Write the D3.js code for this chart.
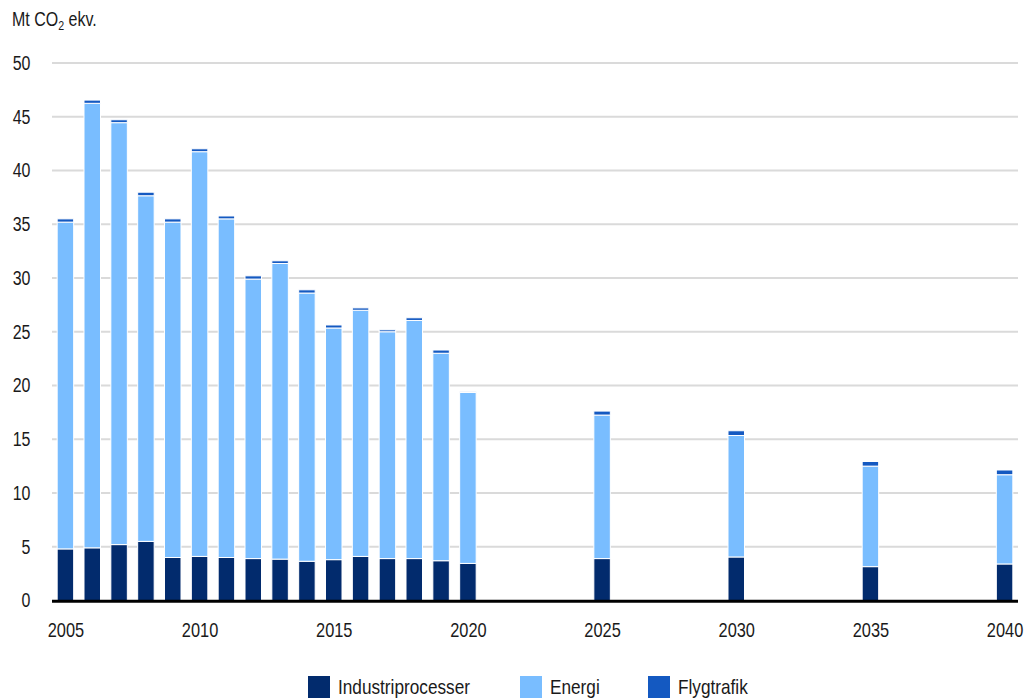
<!DOCTYPE html>
<html>
<head>
<meta charset="utf-8">
<script src="https://cdn.jsdelivr.net/npm/d3@7"></script>
<style>
  html, body { margin: 0; padding: 0; background: #fff; }
  svg { display: block; }
  text { font-family: "Liberation Sans", Arial, sans-serif; fill: #1a1a1a; }
</style>
</head>
<body>
<svg id="chart" width="1026" height="699"></svg>
<script>
// Emissions, Mt CO2 ekv., by year
const years = [2005, 2006, 2007, 2008, 2009, 2010, 2011, 2012, 2013, 2014, 2015, 2016, 2017, 2018, 2019, 2020, 2025, 2030, 2035, 2040];
const industriprocesser = [4.8, 4.9, 5.2, 5.5, 4.0, 4.1, 4.0, 3.9, 3.85, 3.65, 3.8, 4.1, 3.9, 3.9, 3.7, 3.45, 3.9, 4.05, 3.15, 3.4];
const energi = [30.4, 41.35, 39.25, 32.15, 31.2, 37.65, 31.5, 26.0, 27.5, 24.95, 21.55, 22.9, 21.1, 22.15, 19.3, 15.9, 13.35, 11.3, 9.35, 8.3];
const flygtrafik = [0.3, 0.3, 0.27, 0.33, 0.3, 0.27, 0.27, 0.3, 0.25, 0.3, 0.28, 0.22, 0.18, 0.25, 0.3, 0.06, 0.37, 0.44, 0.43, 0.44];

const seriesNames = ["Industriprocesser", "Energi", "Flygtrafik"];
const seriesColors = ["#022b6d", "#79bdff", "#1459c1"];
const yTicks = [0, 5, 10, 15, 20, 25, 30, 35, 40, 45, 50];
const xTicks = [2005, 2010, 2015, 2020, 2025, 2030, 2035, 2040];
const unitLabel = "Mt CO";

const rows = years.map((y, i) => ({
  year: y,
  Industriprocesser: industriprocesser[i],
  Energi: energi[i],
  Flygtrafik: flygtrafik[i]
}));

const svg = d3.select("#chart");
const plotLeft = 52, plotRight = 1018, plotTop = 63, plotBottom = 600.5;
const narrow = "scale(0.82,1)"; // condensed lettering

const x = d3.scaleLinear().domain([2004.5, 2040.5]).range([plotLeft, plotRight]);
const y = d3.scaleLinear().domain([0, 50]).range([plotBottom, plotTop]);
const color = d3.scaleOrdinal().domain(seriesNames).range(seriesColors);
const barW = 16.5;

// unit label
const unit = svg.append("text")
  .attr("transform", `translate(12,26) ${narrow}`)
  .attr("font-size", 19.5);
unit.append("tspan").text(unitLabel);
unit.append("tspan").attr("font-size", 13).attr("dy", 4).text("2");
unit.append("tspan").attr("dy", -4).text(" ekv.");

// horizontal grid
svg.append("g")
  .selectAll("line")
  .data(yTicks.filter(t => t > 0))
  .join("line")
  .attr("x1", plotLeft).attr("x2", plotRight)
  .attr("y1", d => y(d)).attr("y2", d => y(d))
  .attr("stroke", "#dadada").attr("stroke-width", 2);

// y axis labels
const yAxis = d3.axisLeft(y).tickValues(yTicks).tickSize(0).tickPadding(0);
const gy = svg.append("g").attr("transform", "translate(30.5,0)").call(yAxis);
gy.select(".domain").remove();
gy.selectAll("text")
  .attr("x", 0)
  .attr("transform", narrow)
  .attr("font-size", 19.5).attr("fill", "#1a1a1a")
  .style("font-family", "'Liberation Sans', Arial, sans-serif");

// stacked bars
const stacked = d3.stack().keys(seriesNames)(rows);
svg.append("g")
  .selectAll("g")
  .data(stacked)
  .join("g")
  .attr("fill", d => color(d.key))
  .selectAll("rect")
  .data(d => d)
  .join("rect")
  .attr("x", d => x(d.data.year) - barW / 2)
  .attr("width", barW)
  .attr("y", d => y(d[1]))
  .attr("height", d => y(d[0]) - y(d[1]))
  .attr("stroke", "#ffffff")
  .attr("stroke-width", 1);

// baseline
svg.append("line")
  .attr("x1", plotLeft).attr("x2", plotRight)
  .attr("y1", y(0) + 0.8).attr("y2", y(0) + 0.8)
  .attr("stroke", "#000").attr("stroke-width", 3);

// x axis labels
const xAxis = d3.axisBottom(x).tickValues(xTicks).tickFormat(d3.format("d")).tickSize(0).tickPadding(0);
const gx = svg.append("g").attr("transform", "translate(0,623)").call(xAxis);
gx.select(".domain").remove();
gx.selectAll("text")
  .attr("transform", narrow)
  .attr("font-size", 20).attr("fill", "#1a1a1a")
  .style("font-family", "'Liberation Sans', Arial, sans-serif");

// legend
const legendX = [308, 520, 648];
const legend = svg.append("g")
  .selectAll("g")
  .data(seriesNames)
  .join("g")
  .attr("transform", (d, i) => `translate(${legendX[i]},676)`);
legend.append("rect").attr("width", 22).attr("height", 22).attr("fill", d => color(d));
legend.append("text")
  .attr("transform", `translate(30,17.5) ${narrow}`)
  .attr("font-size", 21)
  .text(d => d);
</script>
</body>
</html>
